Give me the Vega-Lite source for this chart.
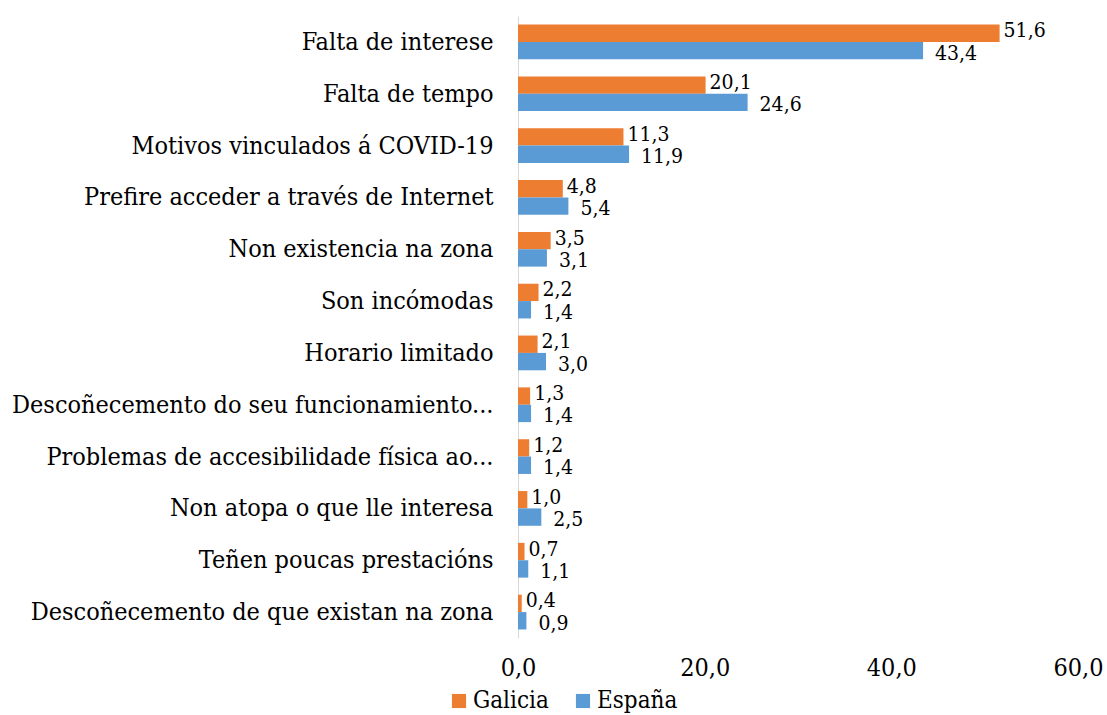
{
  "$schema": "https://vega.github.io/schema/vega-lite/v6.json",
  "autosize": {"type": "none"},
  "padding": {"left": 518, "top": 16, "right": 29, "bottom": 77},
  "width": 560,
  "height": 622,
  "background": "white",
  "config": {
    "locale": {"number": {"decimal": ",", "thousands": ".", "grouping": [3], "currency": ["", " €"]}},
    "view": {"stroke": null},
    "font": "DejaVu Serif Condensed",
    "text": {"font": "DejaVu Serif Condensed"}
  },
  "data": {
    "values": [
      {"motivo": "Falta de interese", "territorio": "Galicia", "valor": 51.6},
      {"motivo": "Falta de interese", "territorio": "España", "valor": 43.4},
      {"motivo": "Falta de tempo", "territorio": "Galicia", "valor": 20.1},
      {"motivo": "Falta de tempo", "territorio": "España", "valor": 24.6},
      {"motivo": "Motivos vinculados á COVID-19", "territorio": "Galicia", "valor": 11.3},
      {"motivo": "Motivos vinculados á COVID-19", "territorio": "España", "valor": 11.9},
      {"motivo": "Prefire acceder a través de Internet", "territorio": "Galicia", "valor": 4.8},
      {"motivo": "Prefire acceder a través de Internet", "territorio": "España", "valor": 5.4},
      {"motivo": "Non existencia na zona", "territorio": "Galicia", "valor": 3.5},
      {"motivo": "Non existencia na zona", "territorio": "España", "valor": 3.1},
      {"motivo": "Son incómodas", "territorio": "Galicia", "valor": 2.2},
      {"motivo": "Son incómodas", "territorio": "España", "valor": 1.4},
      {"motivo": "Horario limitado", "territorio": "Galicia", "valor": 2.1},
      {"motivo": "Horario limitado", "territorio": "España", "valor": 3.0},
      {"motivo": "Descoñecemento do seu funcionamiento...", "territorio": "Galicia", "valor": 1.3},
      {"motivo": "Descoñecemento do seu funcionamiento...", "territorio": "España", "valor": 1.4},
      {"motivo": "Problemas de accesibilidade física ao...", "territorio": "Galicia", "valor": 1.2},
      {"motivo": "Problemas de accesibilidade física ao...", "territorio": "España", "valor": 1.4},
      {"motivo": "Non atopa o que lle interesa", "territorio": "Galicia", "valor": 1.0},
      {"motivo": "Non atopa o que lle interesa", "territorio": "España", "valor": 2.5},
      {"motivo": "Teñen poucas prestacións", "territorio": "Galicia", "valor": 0.7},
      {"motivo": "Teñen poucas prestacións", "territorio": "España", "valor": 1.1},
      {"motivo": "Descoñecemento de que existan na zona", "territorio": "Galicia", "valor": 0.4},
      {"motivo": "Descoñecemento de que existan na zona", "territorio": "España", "valor": 0.9}
    ]
  },
  "encoding": {
    "y": {
      "field": "motivo",
      "type": "nominal",
      "sort": null,
      "title": null,
      "scale": {"paddingInner": 0.33, "paddingOuter": 0.165},
      "axis": {
        "domainColor": "#D9D9D9",
        "domainWidth": 1,
        "ticks": false,
        "labelFont": "DejaVu Serif Condensed",
        "labelFontSize": 25,
        "labelColor": "#000000",
        "labelPadding": 25,
        "labelLimit": 600
      }
    },
    "yOffset": {
      "field": "territorio",
      "type": "nominal",
      "sort": ["Galicia", "España"],
      "scale": {"paddingInner": 0, "paddingOuter": 0}
    },
    "x": {
      "field": "valor",
      "type": "quantitative",
      "title": null,
      "scale": {"domain": [0, 60], "nice": false},
      "axis": {
        "values": [0, 20, 40, 60],
        "format": ".1f",
        "domain": false,
        "ticks": false,
        "grid": false,
        "labelFont": "DejaVu Serif Condensed",
        "labelFontSize": 25,
        "labelColor": "#000000",
        "labelPadding": 17,
        "labelFlush": false
      }
    }
  },
  "layer": [
    {
      "mark": {"type": "bar"},
      "encoding": {
        "color": {
          "field": "territorio",
          "type": "nominal",
          "sort": ["Galicia", "España"],
          "scale": {"domain": ["Galicia", "España"], "range": ["#ED7D31", "#5B9BD5"]},
          "legend": {
            "title": null,
            "orient": "none",
            "direction": "horizontal",
            "legendX": -71,
            "legendY": 673,
            "symbolType": "square",
            "symbolSize": 200,
            "symbolStrokeWidth": 0,
            "labelFont": "DejaVu Serif Condensed",
            "labelFontSize": 24,
            "labelColor": "#000000",
            "labelOffset": 2,
            "columnPadding": 22
          }
        }
      }
    },
    {
      "transform": [{"filter": "datum.territorio === 'Galicia'"}],
      "mark": {"type": "text", "align": "left", "baseline": "middle", "dx": 4, "dy": -2, "fontSize": 21, "color": "#000000"},
      "encoding": {
        "text": {"field": "valor", "type": "quantitative", "format": ".1f"}
      }
    },
    {
      "transform": [{"filter": "datum.territorio === 'España'"}],
      "mark": {"type": "text", "align": "left", "baseline": "middle", "dx": 12, "dy": 3, "fontSize": 21, "color": "#000000"},
      "encoding": {
        "text": {"field": "valor", "type": "quantitative", "format": ".1f"}
      }
    }
  ]
}
